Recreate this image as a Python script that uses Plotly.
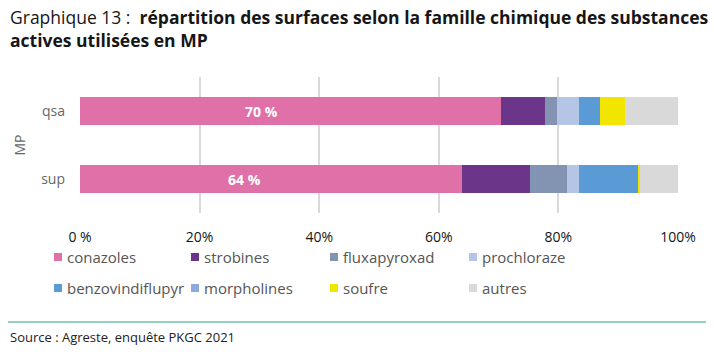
import plotly.graph_objects as go

categories = ["sup", "qsa"]
families = ["conazoles", "strobines", "fluxapyroxad", "prochloraze",
            "benzovindiflupyr", "morpholines", "soufre", "autres"]
# values in % for [sup, qsa]
conazoles = [63.9, 70.4]
strobines = [11.4, 7.4]
fluxapyroxad = [6.1, 2.0]
prochloraze = [2.0, 3.7]
benzovindiflupyr = [10.0, 3.5]
morpholines = [0.0, 0.0]
soufre = [0.3, 4.1]
autres = [6.3, 8.9]
series = [conazoles, strobines, fluxapyroxad, prochloraze,
          benzovindiflupyr, morpholines, soufre, autres]
colors = ["#DF70A8", "#6B3589", "#8394B2", "#B4C5E6",
          "#5B9BD5", "#8EA9DB", "#F2E600", "#D9D9D9"]
tick_vals = [0, 20, 40, 60, 80, 100]
tick_text = ["0 %", "20%", "40%", "60%", "80%", "100%"]

FONT = "Open Sans"
W, H = 714, 352
ML, MR, MT, MB = 80, 36, 77, 139
PW, PH = W - ML - MR, H - MT - MB


def px_x(px):
    return (px - ML) / PW


def px_y(py):
    return (H - MB - py) / PH


fig = go.Figure()
for name, vals, col in zip(families, series, colors):
    fig.add_trace(go.Bar(
        y=categories, x=vals, name=name, orientation="h",
        marker=dict(color=col, line=dict(width=0)),
        hoverinfo="x+name", showlegend=False,
    ))

# labels for conazoles
for cat, v in zip(categories, conazoles):
    fig.add_annotation(x=v * 0.43, y=cat, xref="x", yref="y",
                       text=f"<b>{round(v)} %</b>", showarrow=False,
                       font=dict(family=FONT, size=14, color="white"))

# legend (4 columns x 2 rows)
col_x = [54, 191, 330, 469]
row_y = [257, 288]
for i, (name, col) in enumerate(zip(families, colors)):
    cx = col_x[i % 4]
    cy = row_y[i // 4]
    fig.add_shape(type="rect", xref="paper", yref="paper",
                  x0=px_x(cx), x1=px_x(cx + 8), y0=px_y(cy + 4), y1=px_y(cy - 4),
                  fillcolor=col, line=dict(width=0))
    fig.add_annotation(text=name, xref="paper", yref="paper",
                       x=px_x(cx + 11), xanchor="left", y=px_y(cy), yanchor="middle",
                       showarrow=False,
                       font=dict(family=FONT, size=15, color="#555555"))

fig.update_layout(
    barmode="stack",
    bargap=0.6,
    width=W, height=H,
    margin=dict(l=ML, r=MR, t=MT, b=MB),
    paper_bgcolor="white", plot_bgcolor="white",
    font=dict(family=FONT, color="#333333"),
    xaxis=dict(range=[0, 100], tickvals=tick_vals, ticktext=tick_text,
               showgrid=True, gridcolor="#D9D9D9", gridwidth=1.5,
               zeroline=False, showline=False, ticks="",
               tickfont=dict(family=FONT, size=14, color="#161616"),
               ticklabelstandoff=14, fixedrange=True),
    yaxis=dict(title=dict(text="MP", font=dict(family=FONT, size=14, color="#666666"), standoff=12),
               tickfont=dict(family=FONT, size=14, color="#666666"),
               showgrid=False, zeroline=False, ticks="", ticklabelstandoff=14,
               range=[-0.5, 1.5], fixedrange=True),
    showlegend=False,
)

# title
fig.add_annotation(
    text="Graphique 13 :  <b>répartition des surfaces selon la famille chimique des substances</b><br><b>actives utilisées en MP</b>",
    xref="paper", yref="paper", x=px_x(8), xanchor="left", y=px_y(3), yanchor="top",
    align="left", showarrow=False,
    font=dict(family=FONT, size=17.5, color="#161616"))

fig.add_shape(type="line", xref="paper", yref="paper",
              x0=px_x(8), x1=px_x(706), y0=px_y(322), y1=px_y(322),
              line=dict(color="#6CC2A8", width=1.5))
fig.add_annotation(text="Source : Agreste, enquête PKGC 2021", xref="paper", yref="paper",
                   x=px_x(8), xanchor="left", y=px_y(337), yanchor="middle", showarrow=False,
                   font=dict(family=FONT, size=13, color="#222222"))

fig.write_html("out.html")
